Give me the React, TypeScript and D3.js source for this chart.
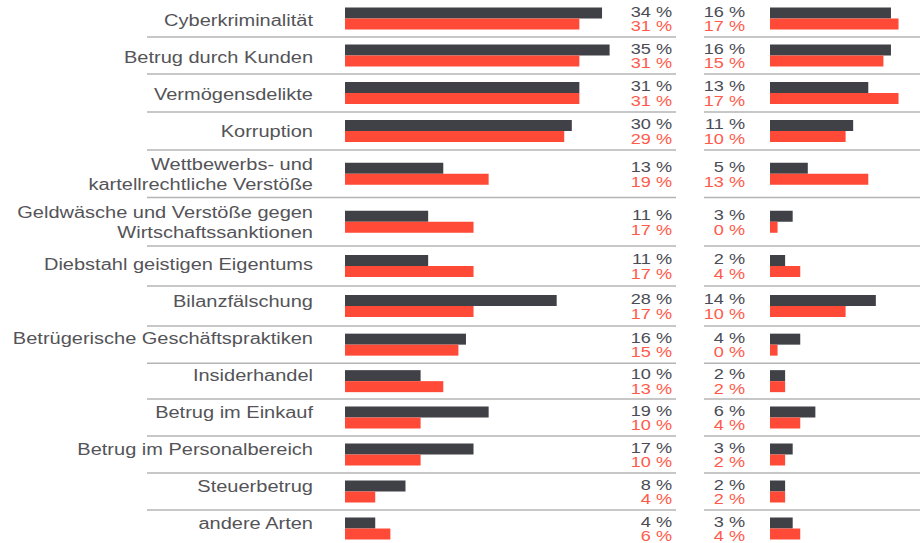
import { useEffect, useRef } from 'react';
import * as d3 from 'd3';

// categories (line breaks where the original wraps)
const categories = [
  'Cyberkriminalität',
  'Betrug durch Kunden',
  'Vermögensdelikte',
  'Korruption',
  'Wettbewerbs- und\nkartellrechtliche Verstöße',
  'Geldwäsche und Verstöße gegen\nWirtschaftssanktionen',
  'Diebstahl geistigen Eigentums',
  'Bilanzfälschung',
  'Betrügerische Geschäftspraktiken',
  'Insiderhandel',
  'Betrug im Einkauf',
  'Betrug im Personalbereich',
  'Steuerbetrug',
  'andere Arten',
];

// left block (%)
const leftDark = [34, 35, 31, 30, 13, 11, 11, 28, 16, 10, 19, 17, 8, 4];
const leftRed = [31, 31, 31, 29, 19, 17, 17, 17, 15, 13, 10, 10, 4, 6];

// right block (%)
const rightDark = [16, 16, 13, 11, 5, 3, 2, 14, 4, 2, 6, 3, 2, 3];
const rightRed = [17, 15, 17, 10, 13, 0, 4, 10, 0, 2, 4, 2, 2, 4];

// bar rows in the source are not all equally tall (the label column runs on its own pitch)
const ROW_HEIGHTS = [37, 37, 38, 38, 47.5, 48.5, 40, 40, 37.3, 35.7, 37, 37, 37, 37];

const DARK = '#404147';
const RED = '#ff4a37';
const DARK_TXT = '#4a4b54';
const RED_TXT = '#ff5a4b';
const LABEL_TXT = '#545458';
const RULE = '#b4b4b4';
const FONT = 'Liberation Sans, Arial, sans-serif';

export default function App() {
  const svgRef = useRef<SVGSVGElement | null>(null);

  useEffect(() => {
    const el = svgRef.current;
    if (!el) return;
    d3.select(el).selectAll('*').remove();

    const W = 920;
    const H = 543;
    const svg = d3.select(el).attr('width', W).attr('height', H);

    // bar length scale, shared by both blocks
    const x = d3.scaleLinear().domain([0, 35]).range([0, 264.6]);
    const barW = (v: number) => x(Math.max(v, 1)); // 0 % still shows a stub

    const leftX = 345;
    const rightX = 770;
    const leftValX = 672;
    const rightValX = 745;
    const labelX = 313;
    const SX = 1.25; // the source type is set wide
    const barH = 11;

    // bar rows + separators
    let top = 0;
    const rows = categories.map((_, i) => {
      const h = ROW_HEIGHTS[i];
      const r = { i, top, h, cy: top + h / 2 };
      top += h;
      return r;
    });

    // label column: own pitch, 37 for one line, 48 for two
    let ltop = 2;
    const labels = categories.map(c => {
      const lines = c.split('\n');
      const h = lines.length > 1 ? 48 : 37;
      const l = { lines, cy: ltop + h / 2 };
      ltop += h;
      return l;
    });

    const wideText = (
      g: d3.Selection<SVGGElement, unknown, null, undefined>,
      tx: number,
      ty: number,
      txt: string,
      size: number,
      color: string,
    ) =>
      g.append('text')
        .attr('transform', `translate(${tx},${ty}) scale(${SX},1)`)
        .attr('text-anchor', 'end')
        .style('font-family', FONT)
        .style('font-size', `${size}px`)
        .style('fill', color)
        .text(txt);

    const g = svg.append('g');

    rows.forEach(r => {
      // separators
      const yb = r.top + r.h;
      g.append('line')
        .attr('x1', 147).attr('x2', 676)
        .attr('y1', yb).attr('y2', yb)
        .style('stroke', RULE).style('stroke-width', 1.5);
      g.append('line')
        .attr('x1', 704).attr('x2', W)
        .attr('y1', yb).attr('y2', yb)
        .style('stroke', RULE).style('stroke-width', 1.5);

      // bars + values
      const blocks = [
        { x0: leftX, d: leftDark[r.i], rd: leftRed[r.i], vx: leftValX },
        { x0: rightX, d: rightDark[r.i], rd: rightRed[r.i], vx: rightValX },
      ];
      blocks.forEach(b => {
        g.append('rect')
          .attr('x', b.x0).attr('y', r.cy - barH)
          .attr('width', barW(b.d)).attr('height', barH)
          .attr('fill', DARK);
        g.append('rect')
          .attr('x', b.x0).attr('y', r.cy)
          .attr('width', barW(b.rd)).attr('height', barH)
          .attr('fill', RED);

        wideText(g, b.vx, r.cy - 2, `${b.d} %`, 14.5, DARK_TXT);
        wideText(g, b.vx, r.cy + 12.8, `${b.rd} %`, 14.5, RED_TXT);
      });
    });

    labels.forEach(l => {
      if (l.lines.length === 1) {
        wideText(g, labelX, l.cy + 5.5, l.lines[0], 16, LABEL_TXT);
      } else {
        wideText(g, labelX, l.cy - 4.5, l.lines[0], 16, LABEL_TXT);
        wideText(g, labelX, l.cy + 15.5, l.lines[1], 16, LABEL_TXT);
      }
    });
  }, []);

  return (
    <div style={{ position: 'absolute', left: 0, top: 0, background: '#fff' }}>
      <svg ref={svgRef} style={{ display: 'block' }} />
    </div>
  );
}
